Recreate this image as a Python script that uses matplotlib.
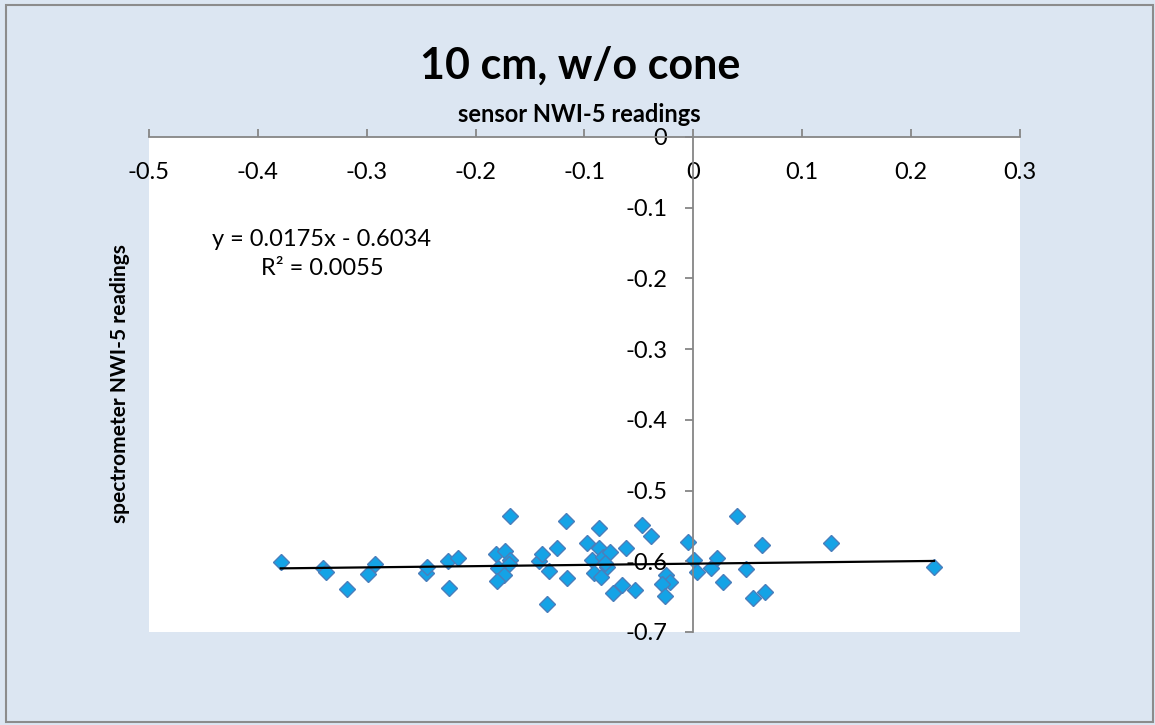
import numpy as np
import matplotlib
matplotlib.use('Agg')
import matplotlib.pyplot as plt
from matplotlib.patches import Rectangle

plt.rcParams['font.family'] = ['Lato', 'DejaVu Sans']

# sensor NWI-5 readings vs spectrometer NWI-5 readings (10 cm, w/o cone)
sensor = [-0.379, -0.340, -0.337, -0.318, -0.299, -0.292, -0.246, -0.245, -0.225, -0.224, -0.216,
          -0.181, -0.173, -0.168, -0.169, -0.179, -0.174, -0.180, -0.168,
          -0.142, -0.139, -0.125, -0.133, -0.116, -0.134, -0.117,
          -0.098, -0.087, -0.087, -0.093, -0.083, -0.077, -0.079, -0.091, -0.085, -0.081,
          -0.062, -0.047, -0.039, -0.066, -0.074, -0.054,
          -0.025, -0.021, -0.029, -0.026,
          -0.005, 0.001, 0.003, 0.016, 0.022, 0.027, 0.040, 0.048, 0.055, 0.063, 0.066, 0.126, 0.221]
spectro = [-0.601, -0.609, -0.615, -0.639, -0.618, -0.604, -0.617, -0.608, -0.600, -0.638, -0.595,
           -0.590, -0.585, -0.598, -0.604, -0.609, -0.619, -0.628, -0.536,
           -0.600, -0.590, -0.581, -0.614, -0.624, -0.660, -0.543,
           -0.574, -0.553, -0.581, -0.598, -0.594, -0.587, -0.608, -0.617, -0.622, -0.602,
           -0.581, -0.549, -0.564, -0.633, -0.645, -0.641,
           -0.619, -0.629, -0.632, -0.649,
           -0.573, -0.598, -0.615, -0.609, -0.595, -0.629, -0.536, -0.611, -0.652, -0.577, -0.643, -0.574, -0.608]

# linear trendline as printed on the chart
slope = 0.0175
intercept = -0.6034
r2 = 0.0055

xticks = [-0.5, -0.4, -0.3, -0.2, -0.1, 0, 0.1, 0.2, 0.3]
xticklabels = ['-0.5', '-0.4', '-0.3', '-0.2', '-0.1', '0', '0.1', '0.2', '0.3']
yticks = [0, -0.1, -0.2, -0.3, -0.4, -0.5, -0.6, -0.7]
yticklabels = ['0', '-0.1', '-0.2', '-0.3', '-0.4', '-0.5', '-0.6', '-0.7']

bg = '#DCE6F2'
axcol = '#868686'

fig = plt.figure(figsize=(11.55, 7.25), dpi=100, facecolor=bg)
fig.patches.append(Rectangle((0.0052, 0.004), 0.993, 0.989, transform=fig.transFigure,
                             fill=False, edgecolor='#8C8C8C', linewidth=1.5))
ax = fig.add_axes([0.1290, 0.1283, 0.7541, 0.6828])
ax.set_facecolor('white')

ax.plot(sensor, spectro, linestyle='none', marker='D', markersize=8,
        markerfacecolor='#14A3E6', markeredgecolor='#4A7EBB', markeredgewidth=1.0,
        zorder=2, clip_on=False)

xs = np.array([min(sensor), max(sensor)])
ax.plot(xs, slope * xs + intercept, color='black', linewidth=1.6, zorder=3)

ax.set_xlim(-0.5, 0.3)
ax.set_ylim(-0.7, 0)

# axes cross at the origin
ax.spines['left'].set_position(('data', 0))
ax.spines['bottom'].set_visible(False)
ax.spines['right'].set_visible(False)
for s in ['left', 'top']:
    ax.spines[s].set_color(axcol)
    ax.spines[s].set_linewidth(1.3)

ax.set_xticks(xticks)
ax.set_xticklabels(xticklabels)
ax.set_yticks(yticks)
ax.set_yticklabels(yticklabels)
ax.tick_params(axis='x', top=True, bottom=False, labeltop=True, labelbottom=False,
               direction='out', length=5.8, width=1.3, color=axcol, pad=-23.5,
               labelsize=17)
for t in ax.xaxis.get_major_ticks():
    t.label2.set_verticalalignment('top')
ax.tick_params(axis='y', left=True, right=False, direction='out', length=5.8,
               width=1.3, color=axcol, pad=13, labelsize=17)

fig.text(0.502, 1 - 66 / 725, '10 cm, w/o cone', ha='center', va='center',
         fontsize=31, fontweight='bold')
fig.text(0.502, 1 - 115 / 725, 'sensor NWI-5 readings', ha='center', va='center',
         fontsize=17, fontweight='bold')
fig.text(120 / 1155, 1 - 384 / 725, 'spectrometer NWI-5 readings', ha='center',
         va='center', rotation=90, fontsize=15, fontweight='bold')

eq = 'y = %.4fx - %.4f\nR² = %.4f' % (slope, -intercept, r2)
fig.text(322 / 1155, 1 - 254 / 725, eq, ha='center', va='center', multialignment='center',
         fontsize=17, linespacing=1.5)

plt.savefig('out.png', dpi=100, facecolor=bg)
